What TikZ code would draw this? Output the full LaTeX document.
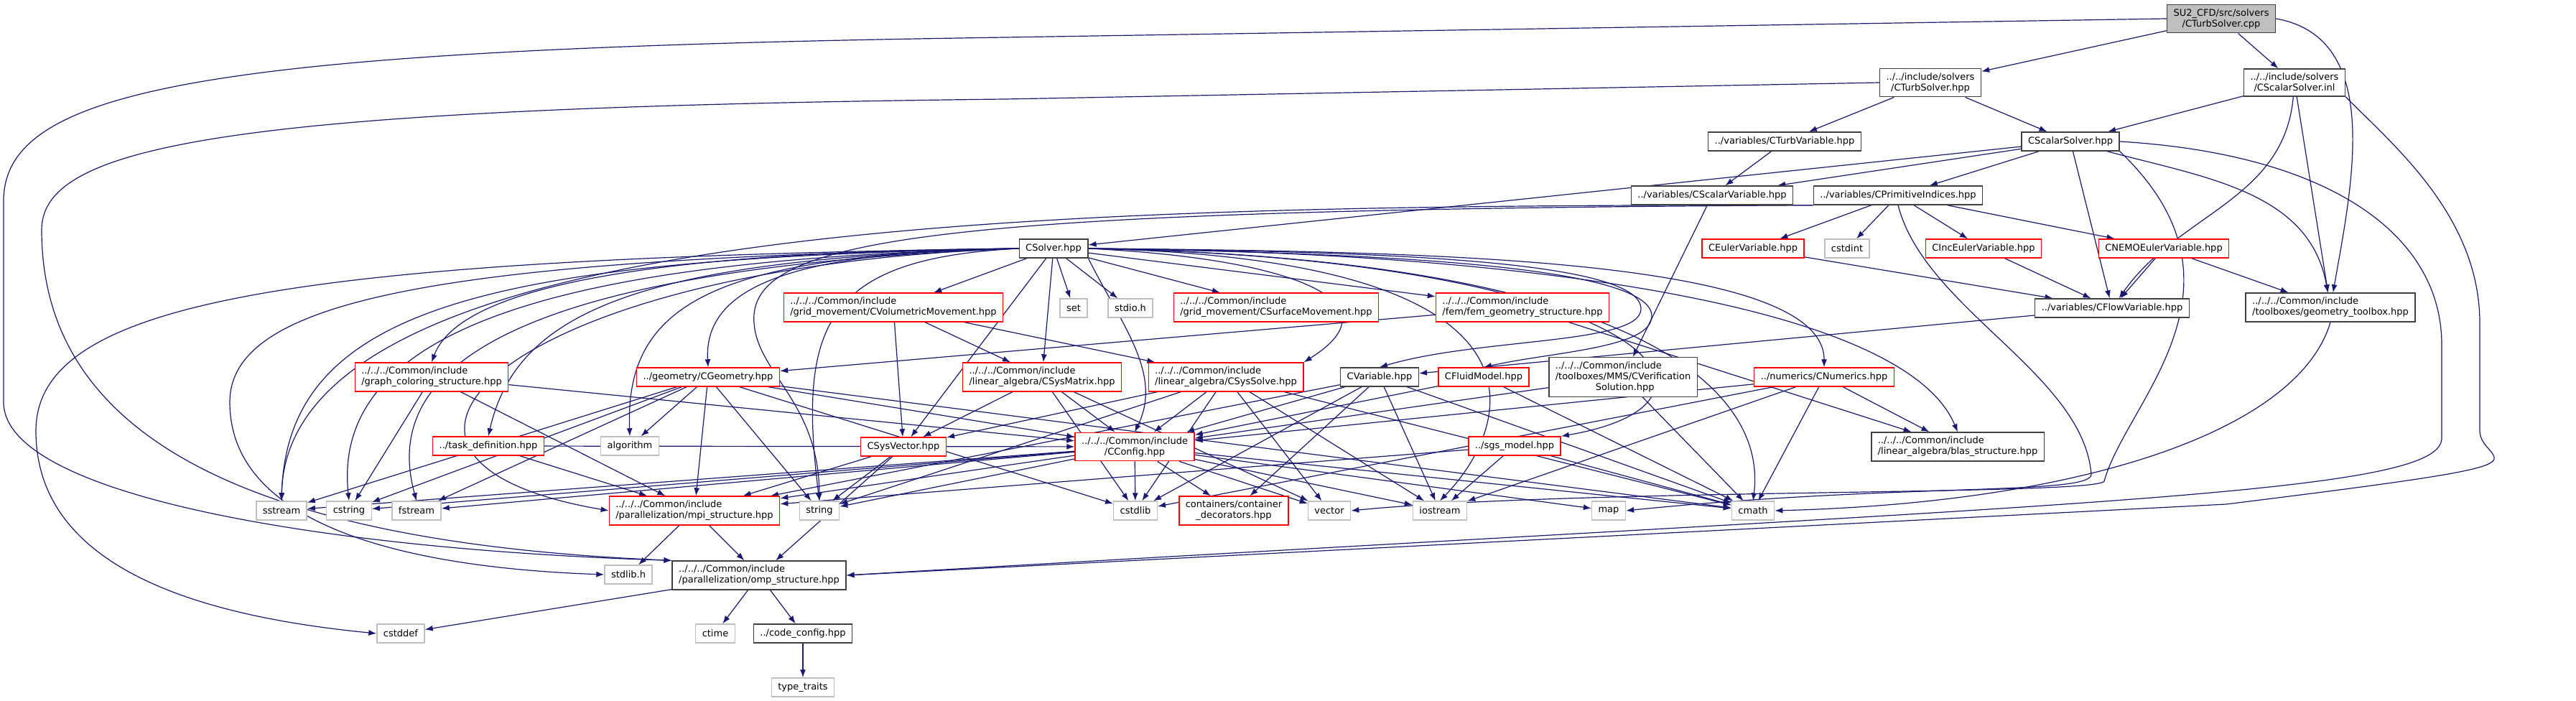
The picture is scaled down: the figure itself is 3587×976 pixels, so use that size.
\documentclass[tikz,border=0pt]{standalone}
\usepackage{fontspec}
\newfontfamily\doxfont{DejaVu Sans}
\usetikzlibrary{arrows.meta}

\definecolor{depblue}{HTML}{191970}
\definecolor{sysgray}{HTML}{BFBFBF}
\definecolor{hdrred}{HTML}{FF0000}

\pgfdeclarelayer{bg}
\pgfsetlayers{bg,main}

\tikzset{
  file/.style={draw=black!75, fill=white, line width=1.4pt,
    font=\doxfont\fontsize{13}{15}\selectfont,
    inner xsep=9pt, inner ysep=6pt, minimum height=26pt},
  redfile/.style={file, draw=hdrred},
  sysfile/.style={file, draw=sysgray},
  rootfile/.style={file, fill=sysgray},
  dep/.style={draw=depblue, line width=1.2pt, -{Latex[length=11pt,width=8pt]}}
}

\begin{document}
\begin{tikzpicture}[x=1pt, y=-1pt]
\useasboundingbox (0,0) rectangle (3587,976);

% Root file
\node[rootfile, align=center] (cpp) at (3093,26) {SU2\_CFD/src/solvers\\/CTurbSolver.cpp};

% Solver headers
\node[file, align=center] (TurbSolverHpp) at (2688,115) {../../include/solvers\\/CTurbSolver.hpp};
\node[file, align=center] (ScalarInl) at (3195,115) {../../include/solvers\\/CScalarSolver.inl};
\node[file] (TurbVariable) at (2485,197) {../variables/CTurbVariable.hpp};
\node[file] (ScalarSolverHpp) at (2883,197) {CScalarSolver.hpp};
\node[file] (ScalarVariable) at (2384,272) {../variables/CScalarVariable.hpp};
\node[file] (PrimitiveIndices) at (2643,272) {../variables/CPrimitiveIndices.hpp};
\node[file] (Solver) at (1467,346) {CSolver.hpp};

% Variables
\node[redfile] (EulerVariable) at (2441,346) {CEulerVariable.hpp};
\node[sysfile] (hCstdint) at (2572,346) {cstdint};
\node[redfile] (IncEulerVariable) at (2762,346) {CIncEulerVariable.hpp};
\node[redfile] (NEMOEulerVariable) at (3013,346) {CNEMOEulerVariable.hpp};
\node[file] (FlowVariable) at (2941,429) {../variables/CFlowVariable.hpp};
\node[file, align=left] (GeomToolbox) at (3245,428) {../../../Common/include\\/toolboxes/geometry\_toolbox.hpp};

% Row under CSolver
\node[redfile, align=left] (VolMovement) at (1244,428) {../../../Common/include\\/grid\_movement/CVolumetricMovement.hpp};
\node[sysfile] (hSet) at (1495,429) {set};
\node[sysfile] (hStdio) at (1574,429) {stdio.h};
\node[redfile, align=left] (SurfMovement) at (1777,428) {../../../Common/include\\/grid\_movement/CSurfaceMovement.hpp};
\node[redfile, align=left] (FemGeometry) at (2120,428) {../../../Common/include\\/fem/fem\_geometry\_structure.hpp};

\node[redfile, align=left] (GraphColoring) at (601,525) {../../../Common/include\\/graph\_coloring\_structure.hpp};
\node[redfile] (Geometry) at (986,525) {../geometry/CGeometry.hpp};
\node[redfile, align=left] (SysMatrix) at (1451,525) {../../../Common/include\\/linear\_algebra/CSysMatrix.hpp};
\node[redfile, align=left] (SysSolve) at (1707,525) {../../../Common/include\\/linear\_algebra/CSysSolve.hpp};
\node[file] (Variable) at (1921,525) {CVariable.hpp};
\node[redfile] (FluidModel) at (2066,525) {CFluidModel.hpp};
\node[file, align=left] (Verification) at (2260,525) {../../../Common/include\\/toolboxes/MMS/CVerification\\\hspace*{56pt}Solution.hpp};
\node[redfile] (Numerics) at (2540,525) {../numerics/CNumerics.hpp};

\node[redfile] (TaskDef) at (680,621) {../task\_definition.hpp};
\node[sysfile] (hAlgorithm) at (877,621) {algorithm};
\node[redfile] (SysVector) at (1258,622) {CSysVector.hpp};
\node[redfile, align=center] (Config) at (1580,622) {../../../Common/include\\/CConfig.hpp};
\node[redfile] (SgsModel) at (2109,621) {../sgs\_model.hpp};
\node[file, align=left] (Blas) at (2726,622) {../../../Common/include\\/linear\_algebra/blas\_structure.hpp};

% Bottom rows
\node[sysfile] (hSstream) at (392,711) {sstream};
\node[sysfile] (hCstring) at (486,711) {cstring};
\node[sysfile] (hFstream) at (580,711) {fstream};
\node[redfile, align=left] (Mpi) at (967,711) {../../../Common/include\\/parallelization/mpi\_structure.hpp};
\node[sysfile] (hString) at (1141,711) {string};
\node[sysfile] (hCstdlib) at (1581,711) {cstdlib};
\node[redfile, align=center] (Containers) at (1718,711) {containers/container\\\_decorators.hpp};
\node[sysfile] (hVector) at (1851,711) {vector};
\node[sysfile] (hIostream) at (2005,711) {iostream};
\node[sysfile] (hMap) at (2240,711) {map};
\node[sysfile] (hCmath) at (2441,711) {cmath};

\node[sysfile] (hStdlib) at (875,800) {stdlib.h};
\node[file, align=left] (Omp) at (1057,801) {../../../Common/include\\/parallelization/omp\_structure.hpp};
\node[sysfile] (hCstddef) at (558,882) {cstddef};
\node[sysfile] (hCtime) at (996,882) {ctime};
\node[file] (CodeConfig) at (1118,882) {../code\_config.hpp};
\node[sysfile] (hTypeTraits) at (1118,957) {type\_traits};

\begin{pgfonlayer}{bg}
\fill[white] (0,0) rectangle (3587,976);

% CTurbSolver.cpp
\draw[dep] (cpp) -- (TurbSolverHpp);
\draw[dep] (cpp) -- (ScalarInl);
\draw[dep] (cpp.east) to[out=-10,in=80] (GeomToolbox);
\draw[dep] (cpp.west) -- (1400,52) .. controls (300,68) and (5,120) .. (5,280)
  -- (5,560) .. controls (5,690) and (450,765) .. (Omp.north west);

% CTurbSolver.hpp
\draw[dep] (TurbSolverHpp) -- (TurbVariable);
\draw[dep] (TurbSolverHpp) -- (ScalarSolverHpp);
\draw[dep] (TurbSolverHpp.west) -- (1400,138) .. controls (330,150) and (58,200) .. (58,320)
  .. controls (58,600) and (330,755) .. (Omp.north west);

% CScalarSolver.inl
\draw[dep] (ScalarInl) -- (ScalarSolverHpp);
\draw[dep] (ScalarInl) to[out=-95,in=55] (FlowVariable);
\draw[dep] (ScalarInl) -- (GeomToolbox);
\draw[dep] (ScalarInl.south east) .. controls (3330,200) and (3453,300) .. (3453,450)
  -- (3453,600) .. controls (3453,650) and (3600,640) .. (3100,702) -- (Omp.east);

% CScalarSolver.hpp
\foreach \dst in {ScalarVariable,Solver,PrimitiveIndices,FlowVariable}
  \draw[dep] (ScalarSolverHpp) -- (\dst);
\draw[dep] (ScalarSolverHpp) to[out=-15,in=100] (GeomToolbox);
\draw[dep] (ScalarSolverHpp.east) .. controls (3250,215) and (3400,330) .. (3400,480)
  -- (3400,610) .. controls (3400,690) and (2900,700) .. (Omp.east);
\draw[dep] (ScalarSolverHpp.south east) .. controls (3150,400) and (2960,560) .. (2930,670)
  .. controls (2920,690) and (2200,680) .. (hVector.east);

% Variables
\draw[dep] (TurbVariable) -- (ScalarVariable);
\draw[dep] (ScalarVariable) -- (Verification);
\foreach \dst in {EulerVariable,hCstdint,IncEulerVariable,NEMOEulerVariable}
  \draw[dep] (PrimitiveIndices) -- (\dst);
\draw[dep] (PrimitiveIndices.south) .. controls (2680,430) and (2900,520) .. (2912,660)
  .. controls (2915,690) and (2650,672) .. (hMap.east);
\draw[dep] (PrimitiveIndices.south west) .. controls (1500,285) and (400,300) .. (hSstream.north);
\draw[dep] (PrimitiveIndices.south west) .. controls (1300,292) and (1040,330) .. (1050,450)
  .. controls (1055,520) and (1140,560) .. (hString.north);
\foreach \src in {EulerVariable,IncEulerVariable,NEMOEulerVariable}
  \draw[dep] (\src) -- (FlowVariable);
\draw[dep] (NEMOEulerVariable) -- (GeomToolbox);
\draw[dep] (FlowVariable) -- (Variable);
\draw[dep] (GeomToolbox.south) .. controls (3200,600) and (2900,700) .. (hCmath.east);

% CSolver.hpp
\foreach \dst in {VolMovement,hSet,hStdio,SurfMovement,FemGeometry,SysMatrix,SysVector}
  \draw[dep] (Solver) -- (\dst);
\draw[dep] (Solver.east) .. controls (1800,360) and (1950,420) .. (SysSolve.north east);
\draw[dep] (Solver.east) .. controls (1900,350) and (2285,360) .. (2285,430)
  .. controls (2285,480) and (2060,470) .. (Variable.north);
\draw[dep] (Solver.east) .. controls (1900,352) and (2300,368) .. (2300,440)
  .. controls (2300,485) and (2160,490) .. (FluidModel.north);
\draw[dep] (Solver.east) .. controls (2000,350) and (2540,360) .. (Numerics.north);
\draw[dep] (Solver.east) .. controls (2100,350) and (2650,420) .. (Blas.north);
\draw[dep] (Solver.east) .. controls (2300,360) and (2450,560) .. (SgsModel.north east);
\draw[dep] (Solver.east) .. controls (2200,360) and (2100,600) .. (hIostream.north);
\draw[dep] (Solver.east) .. controls (2300,360) and (2460,550) .. (hCmath.north);
\draw[dep] (Solver.south east) .. controls (1560,450) and (1620,520) .. (Config.north);
\draw[dep] (Solver.west) .. controls (900,350) and (640,400) .. (GraphColoring.north);
\draw[dep] (Solver.west) .. controls (1100,350) and (980,400) .. (Geometry.north);
\draw[dep] (Solver.west) .. controls (900,360) and (720,430) .. (TaskDef.north);
\draw[dep] (Solver.west) .. controls (1000,355) and (870,420) .. (hAlgorithm.north);
\draw[dep] (Solver.west) .. controls (700,360) and (400,420) .. (hSstream.north);
\draw[dep] (Solver.west) .. controls (800,360) and (460,450) .. (hCstring.north);
\draw[dep] (Solver.west) .. controls (800,370) and (520,480) .. (hFstream.north);
\draw[dep] (Solver.west) .. controls (1150,360) and (1110,450) .. (hString.north);
\draw[dep] (Solver.west) .. controls (700,370) and (430,640) .. (Mpi.west);
\draw[dep] (Solver.west) .. controls (600,360) and (320,420) .. (320,560)
  .. controls (320,730) and (560,790) .. (hStdlib.west);
\draw[dep] (Solver.west) .. controls (400,360) and (50,420) .. (50,600)
  .. controls (50,800) and (300,860) .. (hCstddef.west);

% Common headers
\foreach \dst in {SysMatrix,SysVector,SysSolve}
  \draw[dep] (VolMovement) -- (\dst);
\draw[dep] (FemGeometry) -- (Geometry);
\draw[dep] (FemGeometry) -- (Blas);
\foreach \dst in {hCstring,Mpi,Config}
  \draw[dep] (GraphColoring) -- (\dst);
\foreach \dst in {hSstream,hCstring,hFstream,hAlgorithm,Mpi,hString,hCstdlib,Config,hCmath}
  \draw[dep] (Geometry) -- (\dst);
\foreach \dst in {Mpi,Config}
  \draw[dep] (TaskDef) -- (\dst);
\foreach \dst in {SysVector,Config,hCstdlib,hVector}
  \draw[dep] (SysMatrix) -- (\dst);
\foreach \dst in {SysVector,Config,hCstdlib,hVector,hIostream,hCmath,hString}
  \draw[dep] (SysSolve) -- (\dst);
\foreach \dst in {Mpi,hString,Omp}
  \draw[dep] (SysVector) -- (\dst);
\foreach \dst in {Mpi,hCmath,hIostream,hCstdlib,Config,Containers}
  \draw[dep] (Variable) -- (\dst);
\foreach \dst in {Config,hCmath}
  \draw[dep] (FluidModel) -- (\dst);
\foreach \dst in {Config,hCmath}
  \draw[dep] (Verification) -- (\dst);
\foreach \dst in {Config,hCstdlib,hIostream,hCmath,Blas}
  \draw[dep] (Numerics) -- (\dst);
\foreach \dst in {Mpi,hIostream,hCmath}
  \draw[dep] (SgsModel) -- (\dst);
\foreach \dst in {Mpi,hIostream,hCstdlib,hFstream,hSstream,hString,hCstring,hVector,hMap,hCmath,Containers}
  \draw[dep] (Config) -- (\dst);

% Parallelization
\draw[dep] (Mpi) -- (hStdlib);
\draw[dep] (Mpi) -- (Omp);
\foreach \dst in {hCstddef,hCtime,CodeConfig}
  \draw[dep] (Omp) -- (\dst);
\draw[dep] (CodeConfig) -- (hTypeTraits);
\end{pgfonlayer}
\end{tikzpicture}
\end{document}
